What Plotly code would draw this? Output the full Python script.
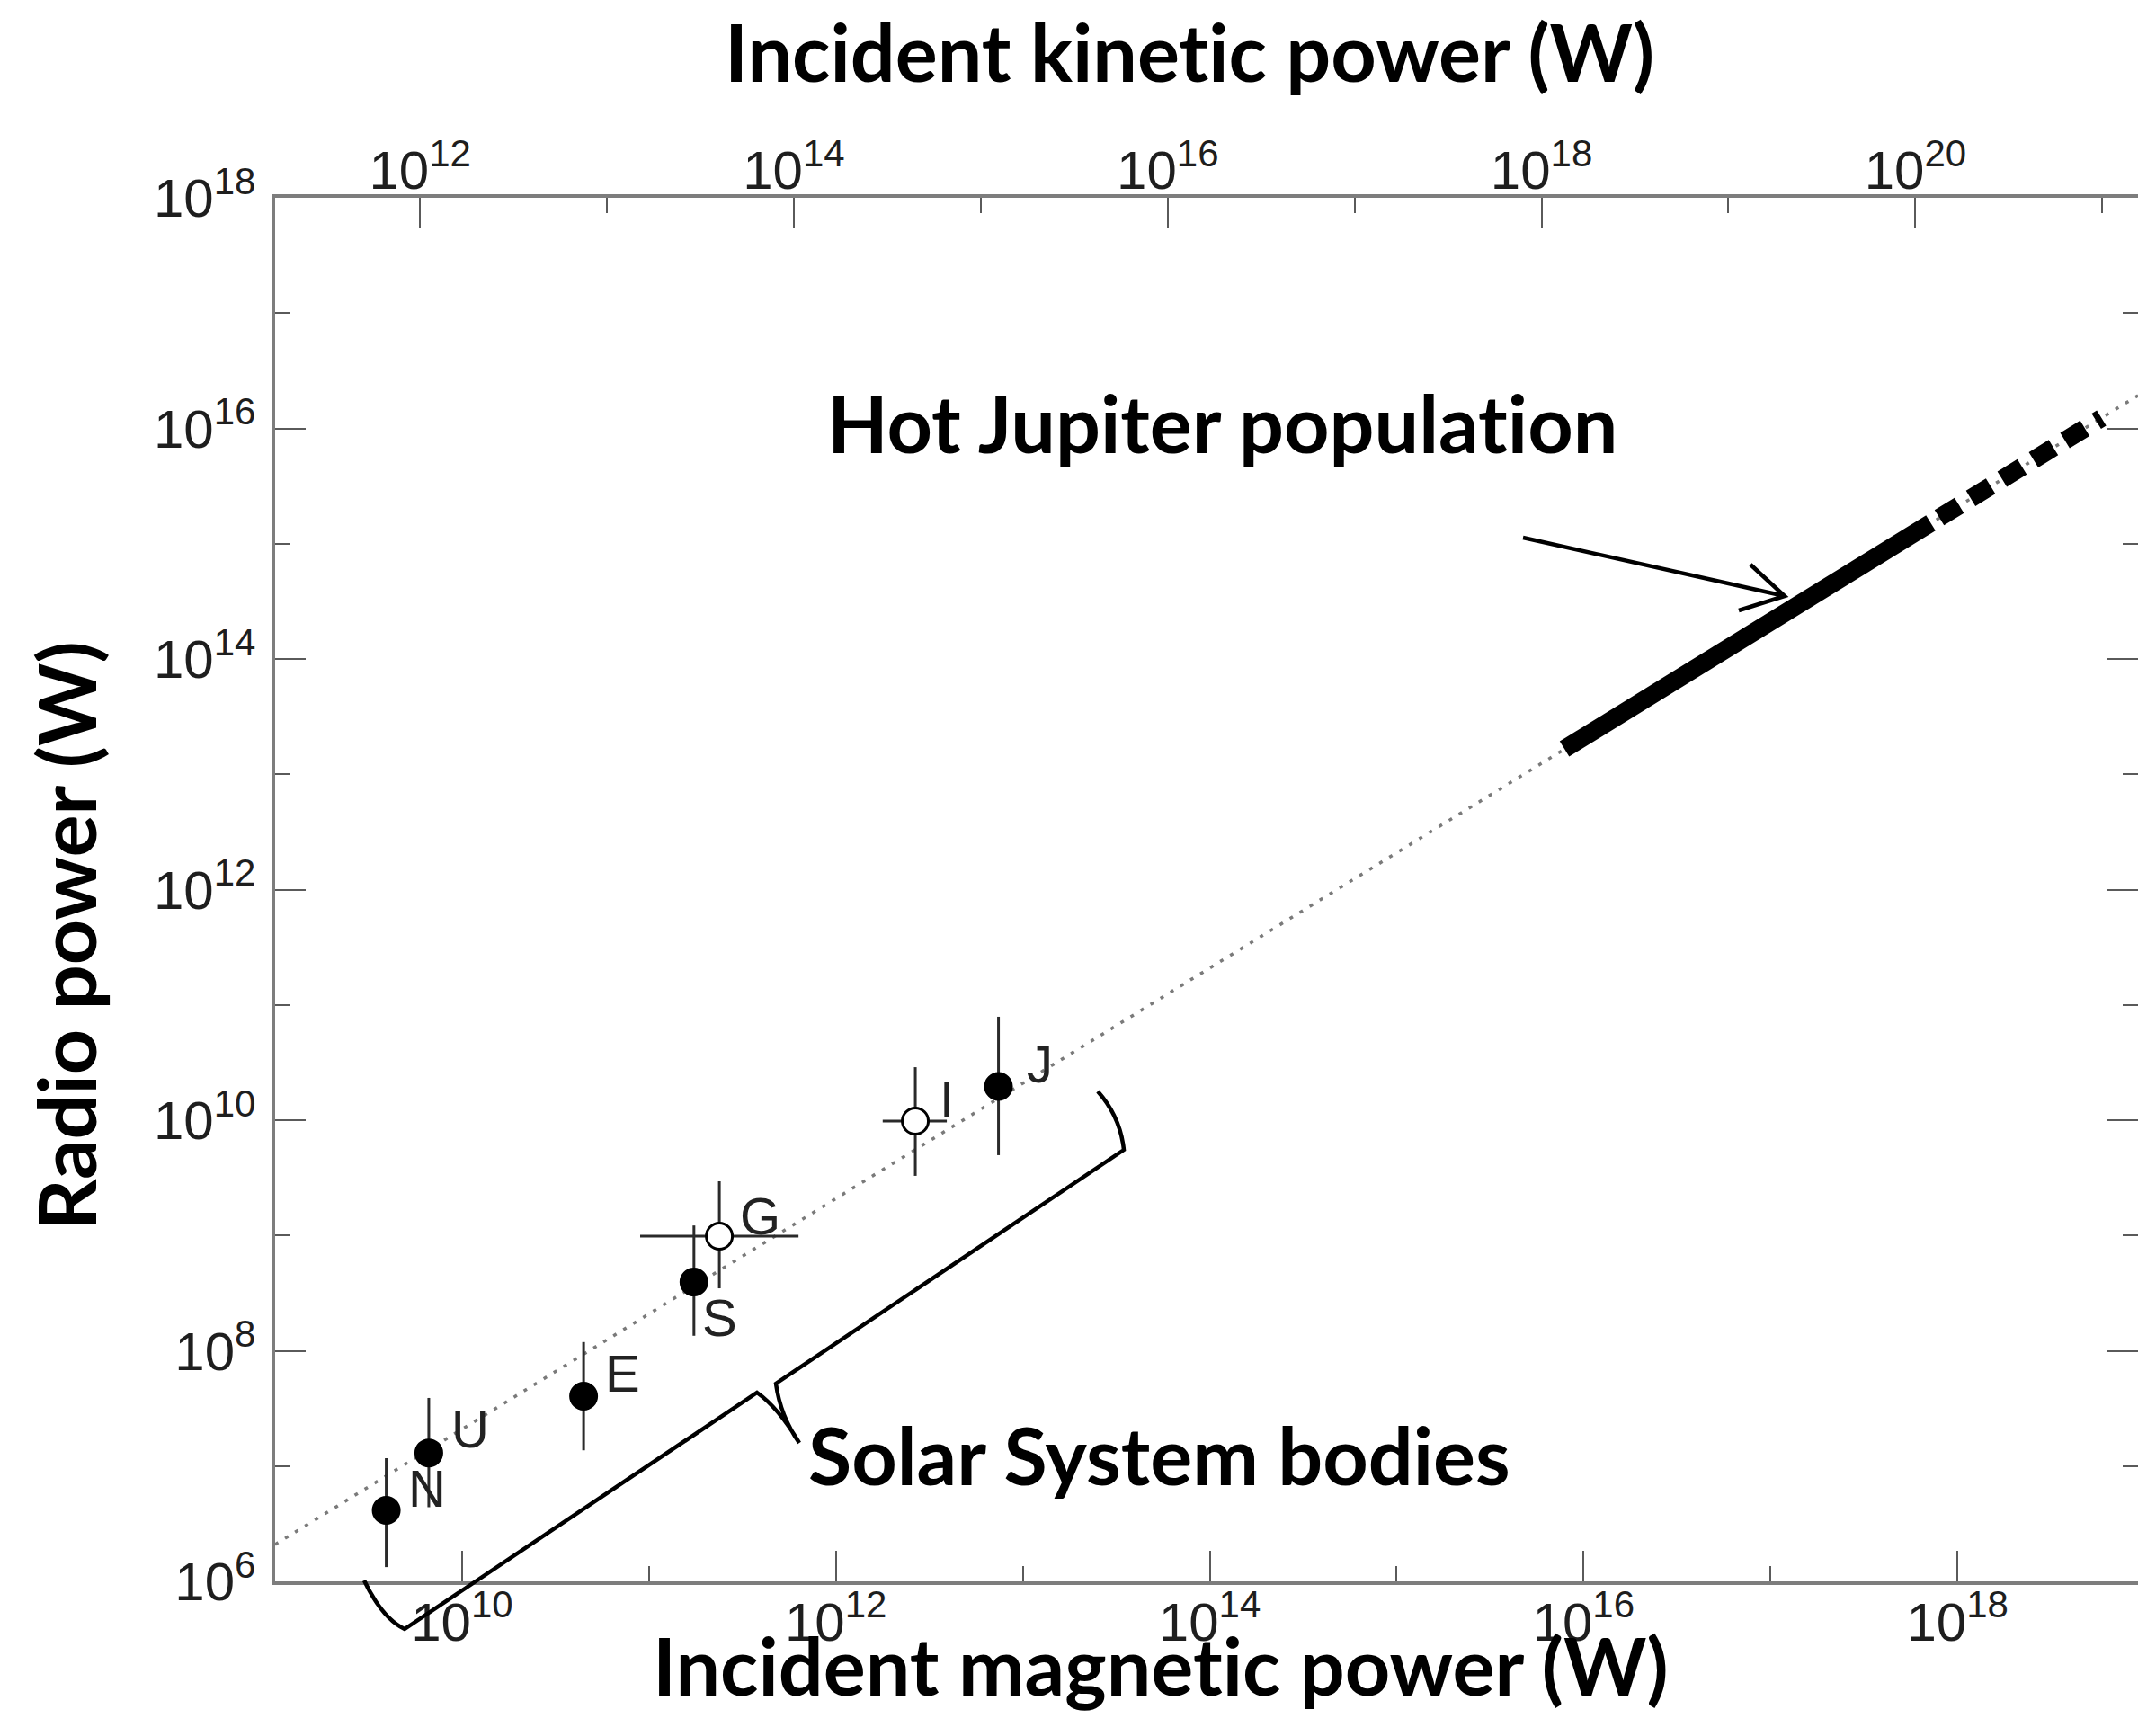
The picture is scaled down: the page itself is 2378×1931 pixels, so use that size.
import math
import plotly.graph_objects as go

# ---- data -----------------------------------------------------------------
bodies = ["N", "U", "E", "S", "G", "I", "J"]
magnetic_power = [3.93e9, 6.64e9, 4.47e10, 1.74e11, 2.38e11, 2.66e12, 7.41e12]
radio_power = [4.13e6, 1.30e7, 4.04e7, 3.95e8, 9.86e8, 9.82e9, 1.96e10]
radio_low = [1.33e6, 4.4e6, 1.37e7, 1.35e8, 3.48e8, 3.29e9, 4.97e9]
radio_high = [1.17e7, 3.9e7, 1.19e8, 1.22e9, 2.95e9, 2.88e10, 7.89e10]
magnetic_low = [None, None, None, None, 8.97e10, 1.78e12, None]
magnetic_high = [None, None, None, None, 6.31e11, 3.92e12, None]
is_moon = [False, False, False, False, True, True, False]

# radiometric scaling law
trend_x = [1.0e9, 9.25e18]
trend_y = [2.09e6, 1.93e16]

# hot Jupiter population: firm part and extrapolated part
hj_solid_x = [7.9e15, 7.2e17]
hj_solid_y = [1.66e13, 1.51e15]
hj_dash_x = [8.0e17, 5.9e18]
hj_dash_y = [1.68e15, 1.23e16]

# axis ranges (log10)
mag_range = [9.0, 18.966]
kin_range = [11.225, 21.191]
radio_range = [6.0, 18.0]

# ---- layout geometry --------------------------------------------------------
W, H = 2378, 1931
L, T, B = 306, 220, 1759


def pxx(X):
    return (X - L) / (W - L)


def pxy(Y):
    return (B - Y) / (B - T)


label_dx = [45, 46, 43, 29, 45, 35, 46]
label_dy = [25, 27, 25, -40, 23, 25, 25]

tick_font = dict(family="Liberation Sans, Arial, sans-serif", size=48, color="#1e1e1e")
title_font = dict(family="Lato, sans-serif", size=88, color="#000000")
axis_grey = "#7d7d7d"
tick_grey = "#5a5a5a"
ZWNJ = "\u200c"  # keeps "ti" from forming a ligature

fig = go.Figure()

# dotted scaling law
fig.add_trace(go.Scatter(
    x=trend_x, y=trend_y, mode="lines",
    line=dict(color="#7a7a7a", width=3.5, dash="4px,9px"),
    hoverinfo="skip", showlegend=False))

# hot Jupiter segment
fig.add_trace(go.Scatter(
    x=hj_solid_x, y=hj_solid_y, mode="lines",
    line=dict(color="#000000", width=20),
    hoverinfo="skip", showlegend=False))
fig.add_trace(go.Scatter(
    x=hj_dash_x, y=hj_dash_y, mode="lines",
    line=dict(color="#000000", width=20, dash="26px,15px"),
    hoverinfo="skip", showlegend=False))

# error bars and markers
err_plus = [h - v for h, v in zip(radio_high, radio_power)]
err_minus = [v - lo for lo, v in zip(radio_low, radio_power)]
xerr_plus = [(h - v) if h is not None else 0 for h, v in zip(magnetic_high, magnetic_power)]
xerr_minus = [(v - lo) if lo is not None else 0 for lo, v in zip(magnetic_low, magnetic_power)]

fig.add_trace(go.Scatter(
    x=magnetic_power, y=radio_power, mode="markers",
    marker=dict(
        size=29,
        color=["#ffffff" if m else "#000000" for m in is_moon],
        line=dict(color="#000000", width=3),
    ),
    error_y=dict(type="data", symmetric=False, array=err_plus, arrayminus=err_minus,
                 color="#2a2a2a", thickness=3, width=0),
    error_x=dict(type="data", symmetric=False, array=xerr_plus, arrayminus=xerr_minus,
                 color="#2a2a2a", thickness=3, width=0),
    hoverinfo="x+y+text", text=bodies, showlegend=False))

# invisible trace to hold the top and right axes
fig.add_trace(go.Scatter(x=[1e15], y=[1e10], xaxis="x2", yaxis="y2", mode="markers",
                         marker=dict(opacity=0), hoverinfo="skip", showlegend=False))

annotations = []
for name, xv, yv, dx, dy in zip(bodies, magnetic_power, radio_power, label_dx, label_dy):
    annotations.append(dict(
        x=math.log10(xv), y=math.log10(yv), xref="x", yref="y", text=name,
        showarrow=False, xshift=dx, yshift=dy,
        font=dict(family="Liberation Sans, Arial, sans-serif", size=58, color="#222222")))

text_items = [
    ("Incident kinet" + ZWNJ + "ic power (W)", 1323, 57, 0),
    ("Hot Jupiter populat" + ZWNJ + "ion", 1359, 470, 0),
    ("Solar System bodies", 1289, 1618, 0),
    ("Incident magnet" + ZWNJ + "ic power (W)", 1291, 1852, 0),
    ("Radio power (W)", 73, 1041, -90),
]
for txt, X, Y, ang in text_items:
    annotations.append(dict(
        x=pxx(X), y=pxy(Y), xref="paper", yref="paper", text="<b>" + txt + "</b>",
        showarrow=False, xanchor="center", yanchor="middle", textangle=ang,
        font=title_font))

# curly brace grouping the Solar System bodies
brace = (
    f"M {pxx(405)},{pxy(1758)} Q {pxx(425)},{pxy(1800)} {pxx(450)},{pxy(1812)} "
    f"L {pxx(842)},{pxy(1549)} Q {pxx(866)},{pxy(1566)} {pxx(889)},{pxy(1605)} "
    f"Q {pxx(868)},{pxy(1575)} {pxx(863)},{pxy(1539)} "
    f"L {pxx(1250)},{pxy(1279)} Q {pxx(1246)},{pxy(1242)} {pxx(1221)},{pxy(1214)}"
)
# open-headed arrow pointing at the hot Jupiter segment
arrow = (
    f"M {pxx(1694)},{pxy(598)} L {pxx(1985)},{pxy(663)} "
    f"M {pxx(1947)},{pxy(628)} L {pxx(1985)},{pxy(663)} L {pxx(1934)},{pxy(679)}"
)
shapes = [
    dict(type="path", path=brace, xref="paper", yref="paper",
         line=dict(color="#000000", width=4.5)),
    dict(type="path", path=arrow, xref="paper", yref="paper",
         line=dict(color="#000000", width=4.5)),
]

common = dict(
    type="log", showgrid=False, zeroline=False,
    ticks="inside", ticklen=34, tickwidth=2, tickcolor=tick_grey,
    dtick=2, exponentformat="power", tickfont=tick_font,
    minor=dict(dtick=1, ticks="inside", ticklen=17, tickwidth=2, tickcolor=tick_grey, showgrid=False),
)

fig.update_layout(
    width=W, height=H,
    margin=dict(l=L, r=0, t=T, b=H - B, pad=0),
    paper_bgcolor="#ffffff", plot_bgcolor="#ffffff",
    xaxis=dict(range=mag_range, showline=True, linecolor=axis_grey, linewidth=4,
               ticklabelstandoff=-8, **common),
    xaxis2=dict(range=kin_range, overlaying="x", side="top", anchor="y",
                showline=True, linecolor=axis_grey, linewidth=4, ticklabelstandoff=-16, **common),
    yaxis=dict(range=radio_range, showline=True, linecolor=axis_grey, linewidth=4,
               ticklabelstandoff=8, **common),
    yaxis2=dict(range=radio_range, overlaying="y", side="right", anchor="x",
                showline=False, showticklabels=False, **common),
    annotations=annotations,
    shapes=shapes,
)

fig.write_html("out.html")
